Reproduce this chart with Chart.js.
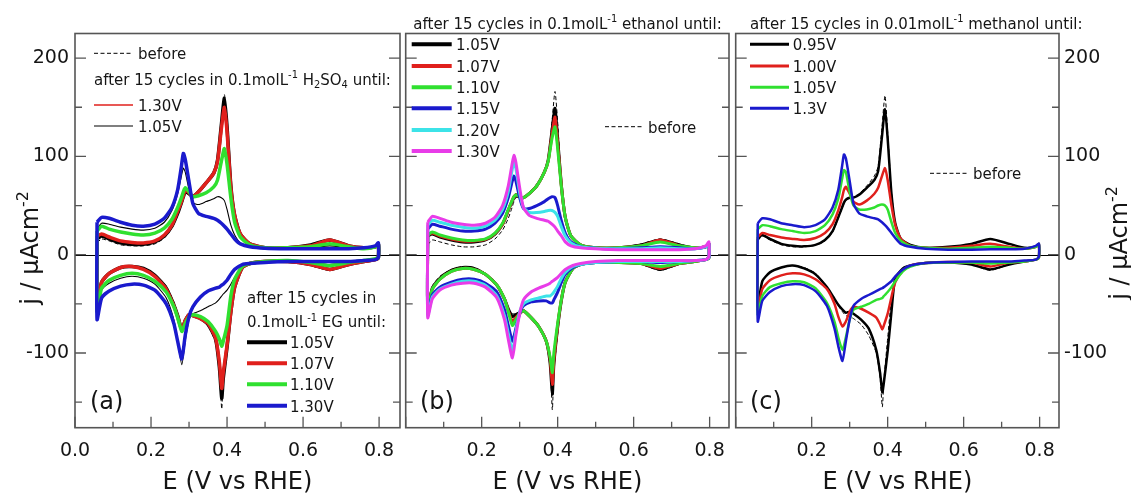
<!DOCTYPE html>
<html>
<head>
<meta charset="utf-8">
<script src="https://cdn.jsdelivr.net/npm/chart.js@4/dist/chart.umd.min.js"></script>
<style>
  html, body { margin: 0; padding: 0; background: #ffffff; }
  #wrap { position: relative; width: 1131px; height: 500px; overflow: hidden; }
  #wrap canvas { position: absolute; left: 0; top: 0; }
</style>
</head>
<body>
<div id="wrap">
  <canvas id="panelA" width="1131" height="500"></canvas>
  <canvas id="panelB" width="1131" height="500"></canvas>
  <canvas id="panelC" width="1131" height="500"></canvas>
</div>
<script>
// Potential grids (V vs RHE): positive-going sweep and negative-going sweep
const E_ANODIC = [0.058, 0.07, 0.09, 0.12, 0.15, 0.18, 0.21, 0.235, 0.255, 0.27, 0.28, 0.285, 0.29, 0.30, 0.31, 0.325, 0.345, 0.365, 0.375, 0.385, 0.393, 0.40, 0.41, 0.42, 0.435, 0.46, 0.50, 0.56, 0.62, 0.67, 0.72, 0.76, 0.79, 0.798];
const E_CATHODIC = [0.798, 0.79, 0.76, 0.72, 0.67, 0.62, 0.56, 0.50, 0.46, 0.44, 0.42, 0.41, 0.40, 0.39, 0.386, 0.38, 0.37, 0.35, 0.33, 0.31, 0.30, 0.29, 0.281, 0.27, 0.26, 0.24, 0.21, 0.18, 0.15, 0.12, 0.09, 0.07, 0.058];

// Axis ticks
const X_TICKS = [0, 0.1, 0.2, 0.3, 0.4, 0.5, 0.6, 0.7, 0.8];
const Y_TICKS = [-150, -100, -50, 0, 50, 100, 150, 200];

// (a) ethylene glycol / H2SO4 — current density, µA cm-2
const aBeforeUp = [12, 16, 14, 10, 9, 9, 11, 17, 27, 40, 52, 58, 63, 62, 60, 65, 74, 84, 97, 135, 163, 133, 72, 40, 20, 10, 6, 7, 10, 14, 9, 6, 8, 10];
const aBeforeDown = [-3, -5, -7, -10, -16, -11, -7, -7, -9, -14, -32, -55, -95, -128, -157, -118, -90, -72, -65, -61, -60, -66, -75, -60, -48, -32, -20, -14, -12, -14, -20, -29, -52];
const aAcid130Up = [18, 21, 18, 14, 12, 12, 14, 20, 30, 43, 54, 60, 65, 63, 59, 64, 73, 82, 94, 126, 148, 124, 68, 39, 20, 10, 7, 7, 9, 14, 9, 7, 8, 11];
const aAcid130Down = [-3, -5, -7, -10, -15, -10, -7, -7, -9, -13, -32, -56, -90, -118, -134, -108, -84, -70, -65, -62, -61, -67, -76, -62, -51, -34, -21, -15, -12, -13, -19, -28, -54];
const aAcid105Up = [26, 32, 31, 28, 26, 25, 27, 33, 45, 62, 80, 88, 84, 66, 53, 51, 54, 57, 59, 58, 55, 46, 30, 20, 12, 8, 6, 6, 7, 9, 7, 6, 8, 11];
const aAcid105Down = [-3, -4, -5, -7, -10, -8, -6, -7, -10, -14, -23, -30, -36, -40, -42, -45, -49, -53, -57, -60, -66, -88, -112, -88, -66, -44, -30, -24, -22, -24, -29, -36, -58];
const aEg105Up = [16, 19, 16, 12, 10.5, 10.5, 13, 19, 29, 42, 53, 59, 64, 62, 59, 64, 73, 83, 96, 132, 159, 130, 70, 40, 21, 11, 7, 7, 10, 15, 9, 7, 8, 11];
const aEg105Down = [-3, -5, -7, -10, -15, -10, -7, -7, -9, -13, -33, -58, -94, -126, -146, -115, -86, -71, -65, -62, -61, -67, -76, -62, -51, -34, -21, -14, -12, -13, -19, -28, -53];
const aEg107Up = [19, 21, 18, 14, 12.5, 12, 14, 20, 30, 44, 54, 60, 66, 63, 59, 64, 73, 83, 95, 128, 150, 125, 68, 40, 21, 11, 7, 7, 9, 15, 9, 7, 8, 11];
const aEg107Down = [-3, -5, -7, -10, -15, -10, -7, -7, -9, -13, -33, -58, -92, -120, -136, -110, -85, -70, -65, -62, -61, -67, -76, -63, -52, -35, -22, -15, -12, -13, -19, -28, -55];
const aEg110Up = [24, 29, 26, 23, 21, 20, 22, 27, 36, 48, 58, 64, 68, 64, 59, 60, 63, 69, 76, 95, 108, 92, 58, 33, 18, 10, 7, 7, 8, 11, 8, 6, 8, 11];
const aEg110Down = [-3, -4, -6, -8, -11, -8, -6, -7, -9, -12, -25, -42, -72, -88, -93, -86, -78, -68, -63, -61, -63, -70, -78, -64, -53, -38, -27, -21, -19, -21, -26, -34, -58];
const aEg130Up = [33, 38, 37, 33, 30, 29, 31, 37, 48, 66, 90, 103, 97, 74, 52, 42, 39, 37, 35, 32, 29, 26, 21, 16, 11, 8, 6.5, 6, 6, 6, 6, 7, 9, 12];
const aEg130Down = [-3, -5, -6, -7, -7, -7, -7, -8, -9, -10, -15, -20, -26, -30, -31, -33, -34, -37, -43, -53, -63, -82, -106, -88, -70, -50, -36, -31, -30, -32, -37, -44, -66];

// (b) ethanol
const bBeforeUp = [10, 15, 13, 10, 8, 8, 10, 16, 25, 37, 48, 54, 58, 58, 57, 63, 72, 84, 97, 135, 166, 135, 70, 38, 18, 9, 6, 7, 11, 16, 11, 7, 8, 11];
const bBeforeDown = [-3, -5, -7, -10, -16, -10, -8, -8, -10, -14, -28, -48, -80, -118, -158, -112, -90, -74, -64, -57, -58, -60, -60, -55, -45, -31, -19, -13, -12, -15, -22, -32, -52];
const b105Up = [19, 21, 18, 15, 13, 13, 15, 21, 31, 45, 54, 58, 61, 59, 58, 62, 70, 84, 96, 126, 149, 118, 70, 38, 19, 10, 7, 7, 10, 15, 10, 7, 8, 11];
const b105Down = [-3, -5, -7, -9, -15, -9, -8, -8, -10, -14, -28, -46, -74, -112, -142, -110, -88, -73, -64, -57, -59, -61, -63, -55, -45, -31, -20, -14, -13, -16, -24, -34, -55];
const b107Up = [20, 22, 19, 16, 14, 14, 15.5, 21.5, 31, 45, 55, 59, 61, 59, 58, 62, 70, 84, 95, 122, 140, 113, 69, 38, 19, 10, 7, 7, 9, 15, 9, 7, 8, 11];
const b107Down = [-3, -5, -7, -9, -14, -9, -8, -8, -10, -14, -28, -45, -72, -108, -132, -106, -88, -73, -64, -57, -60, -64, -68, -57, -45, -31, -20, -15, -14, -17, -25, -35, -56];
const b110Up = [20, 23, 20, 17, 15, 14.5, 16, 22, 32, 46, 55, 59, 61, 59, 58, 62, 70, 84, 95, 118, 130, 108, 68, 38, 19, 10, 7, 7, 9, 13, 9, 7, 8, 11];
const b110Down = [-3, -5, -7, -9, -12, -9, -8, -8, -10, -14, -28, -45, -70, -100, -120, -104, -88, -73, -64, -57, -60, -66, -72, -58, -45, -31, -20, -15, -14, -17, -25, -35, -56];
const b115Up = [26, 31, 29, 26, 24, 24, 26, 32, 42, 58, 74, 80, 75, 58, 47, 47, 50, 54, 57, 59, 58, 50, 34, 22, 13, 8, 6.5, 6, 7, 8, 7, 6, 8, 11];
const b115Down = [-3, -5, -6, -7, -8, -7, -7, -8, -10, -13, -20, -28, -38, -46, -49, -49, -47, -47, -48, -52, -60, -75, -88, -72, -56, -38, -29, -25, -25, -28, -33, -41, -60];
const b120Up = [30, 35, 33, 30, 28, 27, 29, 35, 46, 64, 86, 95, 88, 63, 48, 43, 43, 44, 45, 45, 43, 39, 28, 19, 12, 8, 6.5, 6, 6, 7, 6, 6, 8, 11];
const b120Down = [-3, -5, -6, -7, -7, -7, -7, -8, -10, -12, -18, -24, -32, -38, -40, -42, -42, -44, -46, -50, -58, -78, -98, -80, -62, -42, -31, -27, -27, -30, -35, -43, -62];
const b130Up = [33, 39, 37, 33, 31, 30, 32, 38, 50, 70, 92, 101, 94, 68, 48, 40, 37, 35, 34, 31, 28, 24, 19, 13, 9, 7, 6, 5, 5, 5, 5, 6, 9, 13];
const b130Down = [-2, -5, -6, -6, -6, -6, -6, -7, -9, -11, -15, -19, -23, -26, -27, -29, -31, -34, -38, -46, -60, -82, -105, -86, -66, -44, -33, -29, -29, -31, -36, -45, -64];

// (c) methanol
const cBeforeUp = [14, 19, 15, 10, 8, 8, 9.5, 14, 23, 37, 47, 52, 55, 58, 59, 62, 70, 80, 90, 130, 162, 125, 64, 33, 16, 10, 7, 8, 11, 16, 11, 7, 8, 11];
const cBeforeDown = [-3, -5, -7, -10, -16, -10, -8, -8.5, -11, -14, -26, -45, -85, -128, -155, -125, -100, -82, -71, -65, -63, -62, -58, -52, -45, -32, -19, -13, -11, -13, -18, -27, -52];
const c095Up = [16, 20, 16, 11, 9, 8.5, 10, 15, 24, 38, 48, 53, 56, 58, 58, 61, 68, 76, 85, 120, 148, 118, 62, 32, 16, 10, 7, 8, 11, 16, 11, 7, 8, 11];
const c095Down = [-3, -5, -7, -10, -15, -10, -8, -8.5, -11, -14, -24, -58, -98, -130, -140, -120, -97, -75, -66, -60, -58, -59, -56, -51, -45, -33, -20, -14, -11, -13, -18, -27, -53];
const c100Up = [18, 22, 20, 17.5, 16, 15, 17, 22, 31, 45, 58, 66, 69, 62, 54, 51, 55, 62, 68, 80, 88, 76, 50, 30, 16, 9, 7, 7, 9, 11, 8, 6, 8, 10];
const c100Down = [-3, -5, -7, -8, -12, -8, -7.5, -8.5, -11, -16, -28, -43, -60, -72, -76, -71, -64, -59, -55, -53, -58, -68, -73, -63, -50, -35, -25, -20, -19, -21, -26, -35, -56];
const c105Up = [26, 30, 29, 26, 24, 22, 24, 30, 41, 57, 77, 86, 84, 64, 50, 46, 46, 48, 50, 51, 50, 46, 33, 22, 14, 9, 7, 6, 7, 8, 7, 6, 8, 10];
const c105Down = [-3, -5, -7, -8, -9, -8, -8, -8.5, -12, -17, -27, -33, -38, -42, -44, -45, -46, -50, -53, -56, -66, -84, -97, -84, -68, -49, -34, -28, -27, -29, -33, -42, -61];
const c130Up = [32, 37, 36, 32, 30, 28, 30, 36, 48, 66, 90, 102, 98, 75, 52, 42, 39, 37, 36, 33, 30, 27, 22, 17, 11, 8, 6, 5, 5, 5.5, 5.5, 6, 9, 11];
const c130Down = [-2, -5, -6, -7, -7, -7, -7.5, -8.5, -11, -15, -22, -27, -30, -33, -34, -35, -37, -41, -45, -52, -66, -88, -108, -93, -75, -52, -37, -31, -30, -32, -38, -47, -68];

const FONT = '"DejaVu Sans", "Liberation Sans", sans-serif';
const INK = '#151515';
const FRAME = '#555555';
const COL = {
  black: '#000000', red: '#e0201c', green: '#30e030',
  blue: '#1a1acd', cyan: '#3ce3e8', magenta: '#e83ce8'
};
const DASH = [4, 2.5];

// one closed voltammogram: positive sweep followed by negative sweep
function loop(up, down) {
  const pts = E_ANODIC.map((e, i) => ({ x: e, y: up[i] }));
  E_CATHODIC.forEach((e, i) => pts.push({ x: e, y: down[i] }));
  pts.push({ x: E_ANODIC[0], y: up[0] });
  return pts;
}

// text with superscript / subscript pieces: parts = [[text, ''|'sup'|'sub'], ...]
function richText(ctx, x, y, parts, size, align) {
  const small = size * 0.66;
  const widths = parts.map(([t, k]) => {
    ctx.font = (k ? small : size) + 'px ' + FONT;
    return ctx.measureText(t).width;
  });
  const total = widths.reduce((s, w) => s + w, 0);
  let cx = align === 'center' ? x - total / 2 : x;
  ctx.textAlign = 'left';
  ctx.textBaseline = 'alphabetic';
  parts.forEach(([t, k], i) => {
    ctx.font = (k ? small : size) + 'px ' + FONT;
    const dy = k === 'sup' ? -size * 0.42 : (k === 'sub' ? size * 0.22 : 0);
    ctx.fillText(t, cx, y + dy);
    cx += widths[i];
  });
}

const Y_TITLE = [['j / \u00b5Acm', ''], ['-2', 'sup']];

function decor(cfg) {
  return {
    id: 'decor',
    beforeDatasetsDraw(chart) {
      const { ctx, chartArea: a, scales: { y } } = chart;
      const y0 = Math.round(y.getPixelForValue(0)) + 0.5;
      ctx.save();
      ctx.strokeStyle = '#000';
      ctx.lineWidth = 1;
      ctx.beginPath();
      ctx.moveTo(a.left, y0);
      ctx.lineTo(a.right, y0);
      ctx.stroke();
      ctx.restore();
    },
    afterDatasetsDraw(chart) {
      const { ctx, chartArea: a, scales: { x, y } } = chart;
      ctx.save();
      // inward tick marks
      ctx.strokeStyle = FRAME;
      ctx.lineWidth = 1.3;
      ctx.beginPath();
      X_TICKS.forEach(v => {
        const px = x.getPixelForValue(v);
        const major = Math.round(v * 10) % 2 === 0;
        ctx.moveTo(px, a.bottom);
        ctx.lineTo(px, a.bottom - (major ? 11 : 6));
      });
      Y_TICKS.forEach(v => {
        const py = y.getPixelForValue(v);
        const len = v % 100 === 0 ? 11 : 7;
        ctx.moveTo(a.left, py); ctx.lineTo(a.left + len, py);
        ctx.moveTo(a.right, py); ctx.lineTo(a.right - len, py);
      });
      ctx.stroke();
      // plot frame
      ctx.lineWidth = 1.6;
      ctx.strokeRect(a.left, a.top, a.right - a.left, a.bottom - a.top);

      ctx.fillStyle = INK;
      // legend entries
      (cfg.legend || []).forEach(item => {
        if (item.series !== undefined) {
          const ds = chart.data.datasets[item.series];
          ctx.strokeStyle = ds.borderColor;
          ctx.lineWidth = item.lw || ds.borderWidth;
          ctx.setLineDash(ds.borderDash || []);
          ctx.beginPath();
          ctx.moveTo(item.x1, item.y);
          ctx.lineTo(item.x2, item.y);
          ctx.stroke();
          ctx.setLineDash([]);
          richText(ctx, item.tx, item.y + 5.8, [[ds.label, '']], 15);
        } else {
          richText(ctx, item.x, item.y, item.parts, 15);
        }
      });
      // panel heading above the frame
      if (cfg.heading) richText(ctx, cfg.heading.x, cfg.heading.y, cfg.heading.parts, 15);
      // panel tag
      ctx.font = '24px ' + FONT;
      ctx.textAlign = 'left';
      ctx.textBaseline = 'alphabetic';
      ctx.fillText(cfg.tag.text, cfg.tag.x, cfg.tag.y);
      // rotated current-density title
      if (cfg.yTitle) {
        ctx.save();
        ctx.translate(cfg.yTitle.x, cfg.yTitle.y);
        ctx.rotate(-Math.PI / 2);
        richText(ctx, 0, 0, Y_TITLE, 24, 'center');
        ctx.restore();
      }
      ctx.restore();
    }
  };
}

function makePanel(id, cfg) {
  const n = cfg.series.length;
  const datasets = cfg.series.map((s, i) => ({
    label: s.label,
    data: loop(s.up, s.down),
    showLine: true,
    borderColor: s.color,
    borderWidth: s.width,
    borderDash: s.dash || [],
    pointRadius: 0,
    pointHoverRadius: 0,
    tension: 0.2,
    fill: false,
    order: n - i
  }));
  const tickFont = { family: FONT, size: 19 };
  const yAxis = {
    type: 'linear',
    min: -176, max: 225,
    display: cfg.yPos !== null,
    position: cfg.yPos || 'left',
    afterBuildTicks: s => { s.ticks = Y_TICKS.map(v => ({ value: v })); },
    afterFit: s => { s.width = cfg.yWidth || 0; },
    grid: { display: false, drawTicks: false },
    border: { display: false },
    ticks: {
      autoSkip: false,
      font: tickFont, color: INK, padding: cfg.yPos === 'right' ? 5 : 6,
      callback: v => (v % 100 === 0 ? String(v) : '')
    }
  };
  new Chart(document.getElementById(id), {
    type: 'scatter',
    data: { datasets },
    options: {
      responsive: false,
      animation: false,
      devicePixelRatio: 1,
      events: [],
      layout: { padding: cfg.padding },
      plugins: { legend: { display: false }, tooltip: { enabled: false } },
      scales: {
        x: {
          type: 'linear',
          position: 'bottom',
          min: 0, max: cfg.xMax,
          afterBuildTicks: s => { s.ticks = X_TICKS.map(v => ({ value: v })); },
          afterFit: s => { s.height = 72.3; },
          grid: { display: false, drawTicks: false },
          border: { display: false },
          ticks: {
            autoSkip: false, maxRotation: 0,
            font: tickFont, color: INK, padding: 12,
            callback: v => {
              const r = Math.round(v * 10);
              if (r % 2 !== 0 || v < cfg.xFirstLabel - 1e-9) return '';
              return v.toFixed(1);
            }
          },
          title: {
            display: true, text: 'E (V vs RHE)', color: INK,
            font: { family: FONT, size: 24 }, padding: { top: 0, bottom: 3 }
          }
        },
        y: yAxis
      }
    },
    plugins: [decor(cfg)]
  });
}

const molL = [['0.1molL', ''], ['-1', 'sup']];

makePanel('panelA', {
  padding: { left: 0, right: 731, top: 33.5, bottom: 0 },
  xMax: 0.855, xFirstLabel: 0, yPos: 'left', yWidth: 75,
  series: [
    { label: 'before', up: aBeforeUp, down: aBeforeDown, color: COL.black, width: 1, dash: DASH },
    { label: '1.30V', up: aAcid130Up, down: aAcid130Down, color: COL.red, width: 1.3 },
    { label: '1.05V', up: aAcid105Up, down: aAcid105Down, color: COL.black, width: 1.1 },
    { label: '1.05V', up: aEg105Up, down: aEg105Down, color: COL.black, width: 3.5 },
    { label: '1.07V', up: aEg107Up, down: aEg107Down, color: COL.red, width: 3.5 },
    { label: '1.10V', up: aEg110Up, down: aEg110Down, color: COL.green, width: 3.5 },
    { label: '1.30V', up: aEg130Up, down: aEg130Down, color: COL.blue, width: 3.5 }
  ],
  legend: [
    { series: 0, x1: 94, x2: 133, y: 53.3, tx: 138 },
    { x: 94, y: 84.5, parts: [['after 15 cycles in ', ''], ...molL, [' H', ''], ['2', 'sub'], ['SO', ''], ['4', 'sub'], [' until:', '']] },
    { series: 1, x1: 94, x2: 133, y: 105, tx: 138 },
    { series: 2, x1: 94, x2: 133, y: 126, tx: 138 },
    { x: 247, y: 303, parts: [['after 15 cycles in', '']] },
    { x: 247, y: 327, parts: [...molL, [' EG until:', '']] },
    { series: 3, x1: 247, x2: 287, y: 342.3, tx: 290, lw: 4 },
    { series: 4, x1: 247, x2: 287, y: 363.3, tx: 290, lw: 4 },
    { series: 5, x1: 247, x2: 287, y: 384.3, tx: 290, lw: 4 },
    { series: 6, x1: 247, x2: 287, y: 405.7, tx: 290, lw: 4 }
  ],
  tag: { text: '(a)', x: 90, y: 409 },
  yTitle: { x: 38, y: 248 }
});

makePanel('panelB', {
  padding: { left: 405.7, right: 402, top: 33.5, bottom: 0 },
  xMax: 0.851, xFirstLabel: 0.2, yPos: null,
  series: [
    { label: 'before', up: bBeforeUp, down: bBeforeDown, color: COL.black, width: 1, dash: DASH },
    { label: '1.05V', up: b105Up, down: b105Down, color: COL.black, width: 3 },
    { label: '1.07V', up: b107Up, down: b107Down, color: COL.red, width: 3 },
    { label: '1.10V', up: b110Up, down: b110Down, color: COL.green, width: 3 },
    { label: '1.15V', up: b115Up, down: b115Down, color: COL.blue, width: 3 },
    { label: '1.20V', up: b120Up, down: b120Down, color: COL.cyan, width: 3 },
    { label: '1.30V', up: b130Up, down: b130Down, color: COL.magenta, width: 3 }
  ],
  legend: [
    { series: 1, x1: 411.7, x2: 451.7, y: 44.3, tx: 456, lw: 4 },
    { series: 2, x1: 411.7, x2: 451.7, y: 66, tx: 456, lw: 4 },
    { series: 3, x1: 411.7, x2: 451.7, y: 87.3, tx: 456, lw: 4 },
    { series: 4, x1: 411.7, x2: 451.7, y: 108.3, tx: 456, lw: 4 },
    { series: 5, x1: 411.7, x2: 451.7, y: 130, tx: 456, lw: 4 },
    { series: 6, x1: 411.7, x2: 451.7, y: 151, tx: 456, lw: 4 },
    { series: 0, x1: 605, x2: 643, y: 126.7, tx: 648 }
  ],
  heading: { x: 413.3, y: 28.5, parts: [['after 15 cycles in ', ''], ...molL, [' ethanol until:', '']] },
  tag: { text: '(b)', x: 420, y: 409 }
});

makePanel('panelC', {
  padding: { left: 735.7, right: 0, top: 33.5, bottom: 0 },
  xMax: 0.851, xFirstLabel: 0.2, yPos: 'right', yWidth: 72,
  series: [
    { label: 'before', up: cBeforeUp, down: cBeforeDown, color: COL.black, width: 1, dash: DASH },
    { label: '0.95V', up: c095Up, down: c095Down, color: COL.black, width: 2.5 },
    { label: '1.00V', up: c100Up, down: c100Down, color: COL.red, width: 2.5 },
    { label: '1.05V', up: c105Up, down: c105Down, color: COL.green, width: 2.5 },
    { label: '1.3V', up: c130Up, down: c130Down, color: COL.blue, width: 2.5 }
  ],
  legend: [
    { series: 1, x1: 750, x2: 789, y: 44.3, tx: 792.7, lw: 3 },
    { series: 2, x1: 750, x2: 789, y: 66, tx: 792.7, lw: 3 },
    { series: 3, x1: 750, x2: 789, y: 87.3, tx: 792.7, lw: 3 },
    { series: 4, x1: 750, x2: 789, y: 108.3, tx: 792.7, lw: 3 },
    { series: 0, x1: 930, x2: 968, y: 173.3, tx: 973 }
  ],
  heading: { x: 750, y: 28.5, parts: [['after 15 cycles in 0.01molL', ''], ['-1', 'sup'], [' methanol until:', '']] },
  tag: { text: '(c)', x: 750, y: 409 },
  yTitle: { x: 1127, y: 243 }
});
</script>
</body>
</html>
